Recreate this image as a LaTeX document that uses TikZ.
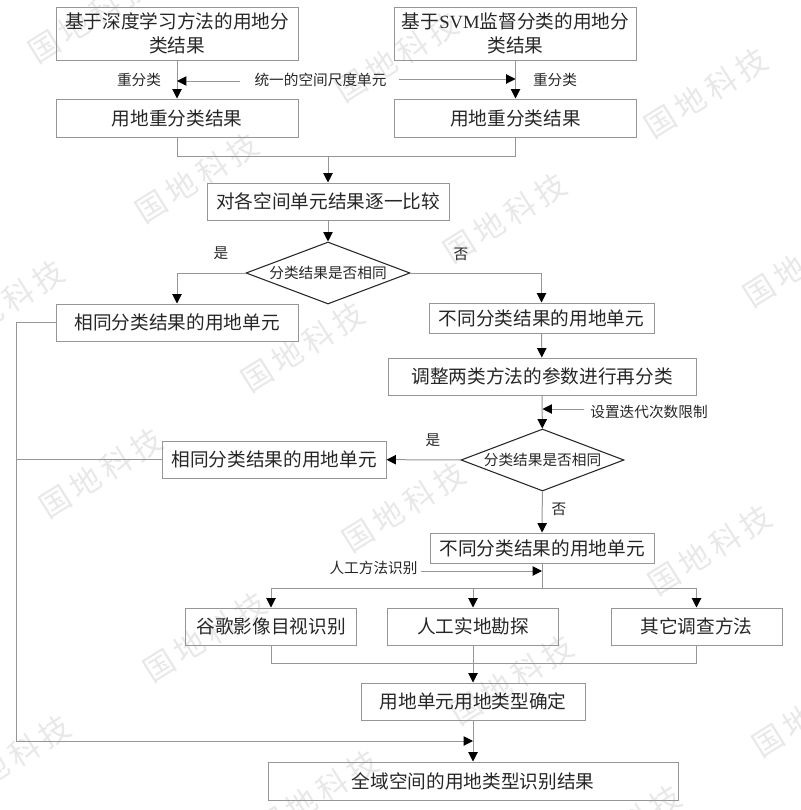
\documentclass[tikz,border=0pt]{standalone}
\usepackage{fontspec}
\setmainfont{Noto Sans CJK SC}
\newfontfamily\latinserif{Liberation Serif}
\usetikzlibrary{arrows.meta,shapes.geometric,calc}
\definecolor{linegray}{HTML}{969696}
\definecolor{inkdark}{HTML}{262626}
\definecolor{wmgray}{HTML}{E8E8E8}
\tikzset{
  box/.style={draw=linegray,line width=0.75pt,text=inkdark,anchor=center,inner sep=0pt,align=center,
    font=\fontsize{14}{18}\selectfont},
  dec/.style={draw=black!85,line width=0.8pt,diamond,aspect=2.64,inner sep=0pt,text=inkdark,
    font=\fontsize{11}{13}\selectfont},
  lab/.style={text=inkdark,inner sep=0pt,font=\fontsize{11}{13}\selectfont},
  wire/.style={draw=linegray,line width=0.75pt},
  flow/.style={wire,-{Triangle[length=7pt,width=7pt,color=black]}},
  wm/.style={text=wmgray,rotate=32,inner sep=0pt,font=\fontsize{23}{25}\selectfont}
}
\newcommand{\wmtext}{国\hspace{4pt}地\hspace{4pt}科\hspace{4pt}技}
\begin{document}
\begin{tikzpicture}[x=0.75pt,y=-0.75pt]
\useasboundingbox (0,0) rectangle (800,810);
% watermark
\foreach \p/\q in {90/18,197/178,397/57,706/93,505/218,3/305,303/347,805/262,101/473,404/507,710/550,9/760,205/637,512/680,814/712,317/795,620/830}
  \node[wm] (wm\p) at (\p,\q) {\wmtext};
% boxes
\node[box,minimum width=181.5pt,minimum height=39.75pt] (A) at (177,33.5) {基于深度学习方法的用地分\\类结果};
\node[box,minimum width=181.5pt,minimum height=39.75pt] (B) at (515.5,33.5) {基于{\latinserif SVM}监督分类的用地分\\类结果};
\node[box,minimum width=181.5pt,minimum height=28.5pt] (C) at (177,118) {用地重分类结果};
\node[box,minimum width=181.5pt,minimum height=28.5pt] (D) at (515.5,118) {用地重分类结果};
\node[box,minimum width=181.5pt,minimum height=27.75pt] (E) at (328,201.5) {对各空间单元结果逐一比较};
\node[dec,minimum width=123pt,minimum height=46.5pt] (Q1) at (328,273) {分类结果是否相同};
\node[box,minimum width=181.5pt,minimum height=27.75pt] (F) at (177,322.5) {相同分类结果的用地单元};
\node[box,minimum width=168.75pt,minimum height=22.5pt] (G) at (541.5,318) {不同分类结果的用地单元};
\node[box,minimum width=231pt,minimum height=27.75pt] (H) at (542,376.5) {调整两类方法的参数进行再分类};
\node[dec,minimum width=122.25pt,minimum height=46.5pt] (Q2) at (542.5,460) {分类结果是否相同};
\node[box,minimum width=168pt,minimum height=27.75pt] (I) at (274,459.5) {相同分类结果的用地单元};
\node[box,minimum width=168pt,minimum height=22.5pt] (J) at (542,548) {不同分类结果的用地单元};
\node[box,minimum width=128.25pt,minimum height=27.75pt] (K) at (271,626.5) {谷歌影像目视识别};
\node[box,minimum width=128.25pt,minimum height=27.75pt] (L) at (473,626.5) {人工实地勘探};
\node[box,minimum width=128.25pt,minimum height=27.75pt] (M) at (696.5,626.5) {其它调查方法};
\node[box,minimum width=168pt,minimum height=27.75pt] (N) at (473,701.5) {用地单元用地类型确定};
\node[box,minimum width=307.5pt,minimum height=28.5pt] (O) at (473,781) {全域空间的用地类型识别结果};
% labels
\node[lab] (l1) at (139,80) {重分类};
\node[lab] (l2) at (320.5,80) {统一的空间尺度单元};
\node[lab] (l3) at (555,80) {重分类};
\node[lab] (y1) at (221,253) {是};
\node[lab] (n1) at (461,254) {否};
\node[lab] (l4) at (649,412) {设置迭代次数限制};
\node[lab] (y2) at (433,440) {是};
\node[lab] (n2) at (559,509) {否};
\node[lab] (l5) at (373.5,568) {人工方法识别};
% junctions
\coordinate (j1) at (328,156);
\coordinate (j2) at (542,588);
\coordinate (j3) at (473,663);
\coordinate (j4) at (16,741);
\coordinate (t1) at (177,81);
\coordinate (t2) at (515.5,79);
\coordinate (t3) at (542.5,409);
\coordinate (t4) at (542,571);
\coordinate (t5) at (473,741);
% connectors
\draw[flow] (A) -- (C);
\draw[flow] (B) -- (D);
\draw[flow] (l2.west|-t1) ++(-14,0) -- (t1);
\draw[flow] (l2.east|-t2) ++(12,0) -- (t2);
\draw[wire] (C.south) |- (j1);
\draw[wire] (D.south) |- (j1);
\draw[flow] (j1) -- (E);
\draw[flow] (E) -- (Q1);
\draw[flow] (Q1.west) -| (F.north);
\draw[flow] (Q1.east) -| (G.north);
\draw[flow] (G) -- (H);
\draw[flow] (H) -- (Q2);
\draw[flow] (l4.west|-t3) ++(-6,0) -- (t3);
\draw[flow] (Q2) -- (I);
\draw[flow] (Q2) -- (J);
\draw[wire] (J.south) -- (j2);
\draw[flow] (l5.east|-t4) ++(3,0) -- (t4);
\draw[flow] (j2) -| (K.north);
\draw[flow] (j2) -| (L.north);
\draw[flow] (j2) -| (M.north);
\draw[wire] (K.south) |- (j3);
\draw[wire] (M.south) |- (j3);
\draw[wire] (L.south) -- (j3);
\draw[flow] (j3) -- (N);
\draw[flow] (N) -- (O);
\draw[wire] (F.west) -| (j4);
\draw[wire] (I.west) -- (I.west-|j4);
\draw[flow] (j4) -- (t5);
\end{tikzpicture}
\end{document}
